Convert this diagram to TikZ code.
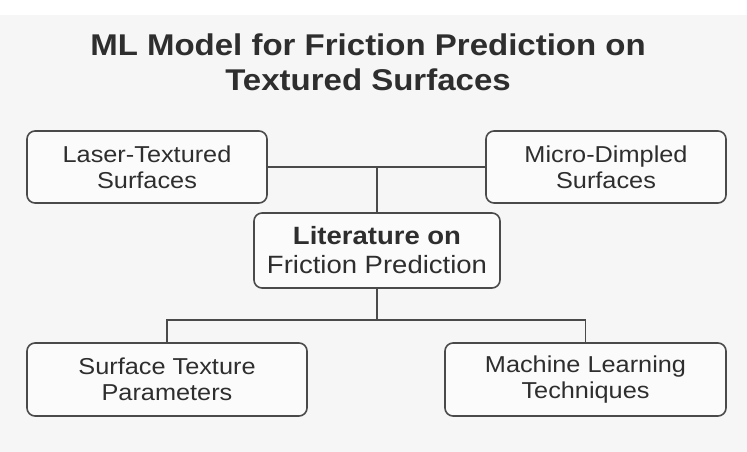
\documentclass[tikz,border=0pt]{standalone}
\usepackage{fontspec}
\setmainfont{Liberation Sans}[FakeStretch=1.1]
\definecolor{bggray}{HTML}{F6F6F6}
\definecolor{boxfill}{HTML}{FBFBFB}
\definecolor{linegray}{HTML}{4A4A4A}
\definecolor{textgray}{HTML}{2E2E2E}
\begin{document}
\begin{tikzpicture}[x=1pt, y=-1pt,
    box/.style={draw=linegray, fill=boxfill, line width=1.6pt, rounded corners=8pt,
      align=center, text=textgray, inner sep=0pt, font=\fontsize{23}{26}\selectfont},
    link/.style={draw=linegray, line width=1.5pt}]
  \useasboundingbox (0,0) rectangle (747,452);
  \fill[bggray] (0,15) rectangle (747,452); % grey page below the white strip
  % title
  \node[text=textgray, align=center, font=\fontsize{30}{35}\selectfont\bfseries] (title) at (368,62)
    {ML Model for Friction Prediction on\\Textured Surfaces};
  % boxes
  \node[box, minimum width=240pt, minimum height=72pt] (laser) at (147,167) {Laser-Textured\\Surfaces};
  \node[box, minimum width=240pt, minimum height=72pt] (dimple) at (606,167) {Micro-Dimpled\\Surfaces};
  \node[box, minimum width=246pt, minimum height=75pt, font=\fontsize{25}{29}\selectfont] (lit) at (377,250.5)
    {\textbf{Literature on}\\Friction Prediction};
  \node[box, minimum width=280pt, minimum height=73pt] (surf) at (167,379.5) {Surface Texture\\Parameters};
  \node[box, minimum width=281pt, minimum height=73pt] (ml) at (585.5,379.5) {Machine Learning\\Techniques};
  % connectors
  \draw[link] (laser.east) -- (dimple.west);
  \draw[link] (lit.north) -- (lit.north |- laser.east);
  \coordinate (split) at (377,320);
  \draw[link] (lit.south) -- (split);
  \draw[link] (surf.north) |- (split) -| (ml.north);
\end{tikzpicture}
\end{document}
